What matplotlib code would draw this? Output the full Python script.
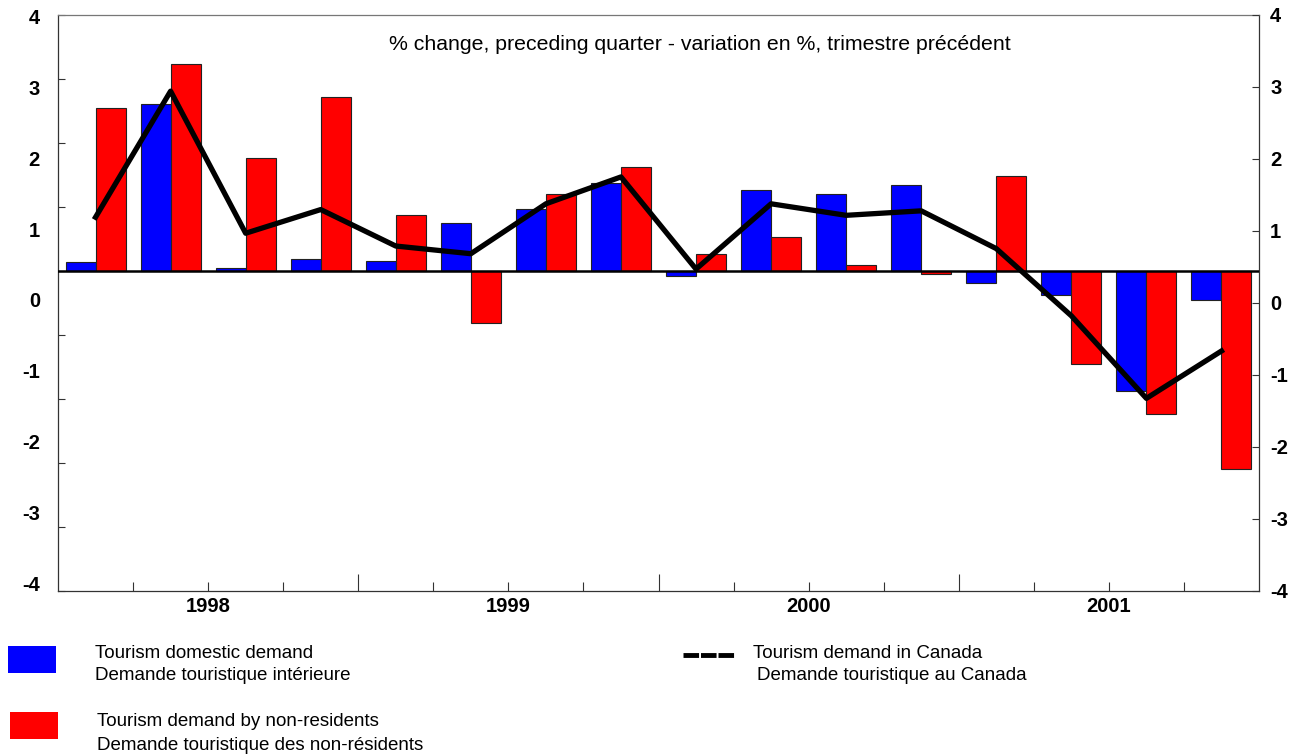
import numpy as np
import matplotlib.pyplot as plt
from matplotlib.patches import Rectangle
from matplotlib.lines import Line2D

plt.rcParams['font.family'] = ['Liberation Sans', 'DejaVu Sans']

# quarters 1998Q1 .. 2001Q4
years = ["1998", "1999", "2000", "2001"]
domestic = [0.14, 2.61, 0.05, 0.18, 0.16, 0.75, 0.97, 1.37,
            -0.08, 1.27, 1.21, 1.35, -0.18, -0.37, -1.88, -0.46]
non_residents = [2.55, 3.23, 1.77, 2.72, 0.88, -0.82, 1.20, 1.62,
                 0.26, 0.53, 0.10, -0.04, 1.49, -1.46, -2.23, -3.10]
canada = [0.84, 2.81, 0.59, 0.96, 0.39, 0.27, 1.05, 1.47,
          0.03, 1.05, 0.87, 0.94, 0.35, -0.70, -1.99, -1.25]
axis_labels = [4, 3, 2, 1, 0, -1, -2, -3, -4]

title = "% change, preceding quarter - variation en %, trimestre précédent"
legend_entries = [
    ("Tourism domestic demand", "Demande touristique intérieure"),
    ("Tourism demand by non-residents", "Demande touristique des non-résidents"),
    ("Tourism demand in Canada", "Demande touristique au Canada"),
]

W, H = 1293, 756
fig = plt.figure(figsize=(W / 100, H / 100), dpi=100)


def fx(px):
    return px / W


def fy(py):
    return 1 - py / H


ax = fig.add_axes([fx(58), fy(591), fx(1259) - fx(58), fy(15) - fy(591)])

x = np.arange(len(domestic))
ax.bar(x - 0.2, domestic, width=0.4, color="#0000ff", edgecolor="#222222", linewidth=0.8, zorder=2)
ax.bar(x + 0.2, non_residents, width=0.4, color="#ff0000", edgecolor="#222222", linewidth=0.8, zorder=2)
ax.plot(x, canada, color="black", linewidth=3.8, zorder=4)
ax.axhline(0, color="black", linewidth=1.8, zorder=3)

ax.set_xlim(-0.5, len(domestic) - 0.5)
ax.set_ylim(-5, 4)
ax.set_yticks(range(-5, 5))
ax.set_yticklabels([])
ax.tick_params(axis="y", direction="in", length=5, width=0.8, color="#333333")

# x axis: minor ticks at quarter boundaries, major at year boundaries
ax.set_xticks([3.5, 7.5, 11.5])
ax.set_xticks([0.5, 1.5, 2.5, 4.5, 5.5, 6.5, 8.5, 9.5, 10.5, 12.5, 13.5, 14.5], minor=True)
ax.set_xticklabels([])
ax.tick_params(axis="x", which="major", direction="in", length=12, width=0.8, color="#333333")
ax.tick_params(axis="x", which="minor", direction="in", length=6.5, width=0.8, color="#333333")
for s in ax.spines.values():
    s.set_linewidth(0.9)
    s.set_color("#333333")
ax.spines["top"].set_color("#777777")

for i, yr in enumerate(years):
    ax.text(4 * i + 1.5, -5.25, yr, ha="center", va="center", fontsize=14.5, fontweight="bold")

# right axis
axr = ax.twinx()
axr.set_ylim(-4, 4)
axr.set_yticks(axis_labels)
axr.set_yticklabels([str(v) for v in axis_labels], fontsize=14.5, fontweight="bold")
axr.tick_params(axis="y", direction="in", length=5, width=0.8, color="#333333", pad=8)
for s in axr.spines.values():
    s.set_visible(False)

# left labels (placed independently of the left tick marks)
axl = ax.twinx()
axl.set_ylim(-4.11, 4.025)
axl.yaxis.tick_left()
axl.set_yticks(axis_labels)
axl.set_yticklabels([str(v) for v in axis_labels], fontsize=14.5, fontweight="bold")
axl.tick_params(axis="y", length=0, pad=13)
for s in axl.spines.values():
    s.set_visible(False)

fig.text(fx(700), fy(45), title, ha="center", va="center", fontsize=15.3)

# legend
fig.add_artist(Rectangle((fx(8), fy(673)), fx(48), fy(646) - fy(673),
                         facecolor="#0000ff", edgecolor="none", transform=fig.transFigure))
fig.add_artist(Rectangle((fx(10), fy(739)), fx(48), fy(712) - fy(739),
                         facecolor="#ff0000", edgecolor="none", transform=fig.transFigure))
fig.add_artist(Line2D([fx(683), fx(734)], [fy(655), fy(655)], color="black", linewidth=3.5,
                      dashes=(3.2, 0.4), transform=fig.transFigure))

fs = 13.5
fig.text(fx(95), fy(653), legend_entries[0][0], ha="left", va="center", fontsize=fs)
fig.text(fx(95), fy(676), legend_entries[0][1], ha="left", va="center", fontsize=fs)
fig.text(fx(97), fy(721), legend_entries[1][0], ha="left", va="center", fontsize=fs)
fig.text(fx(97), fy(745), legend_entries[1][1], ha="left", va="center", fontsize=fs)
fig.text(fx(753), fy(653), legend_entries[2][0], ha="left", va="center", fontsize=fs)
fig.text(fx(757), fy(676), legend_entries[2][1], ha="left", va="center", fontsize=fs)

fig.savefig("out.png", dpi=100)
